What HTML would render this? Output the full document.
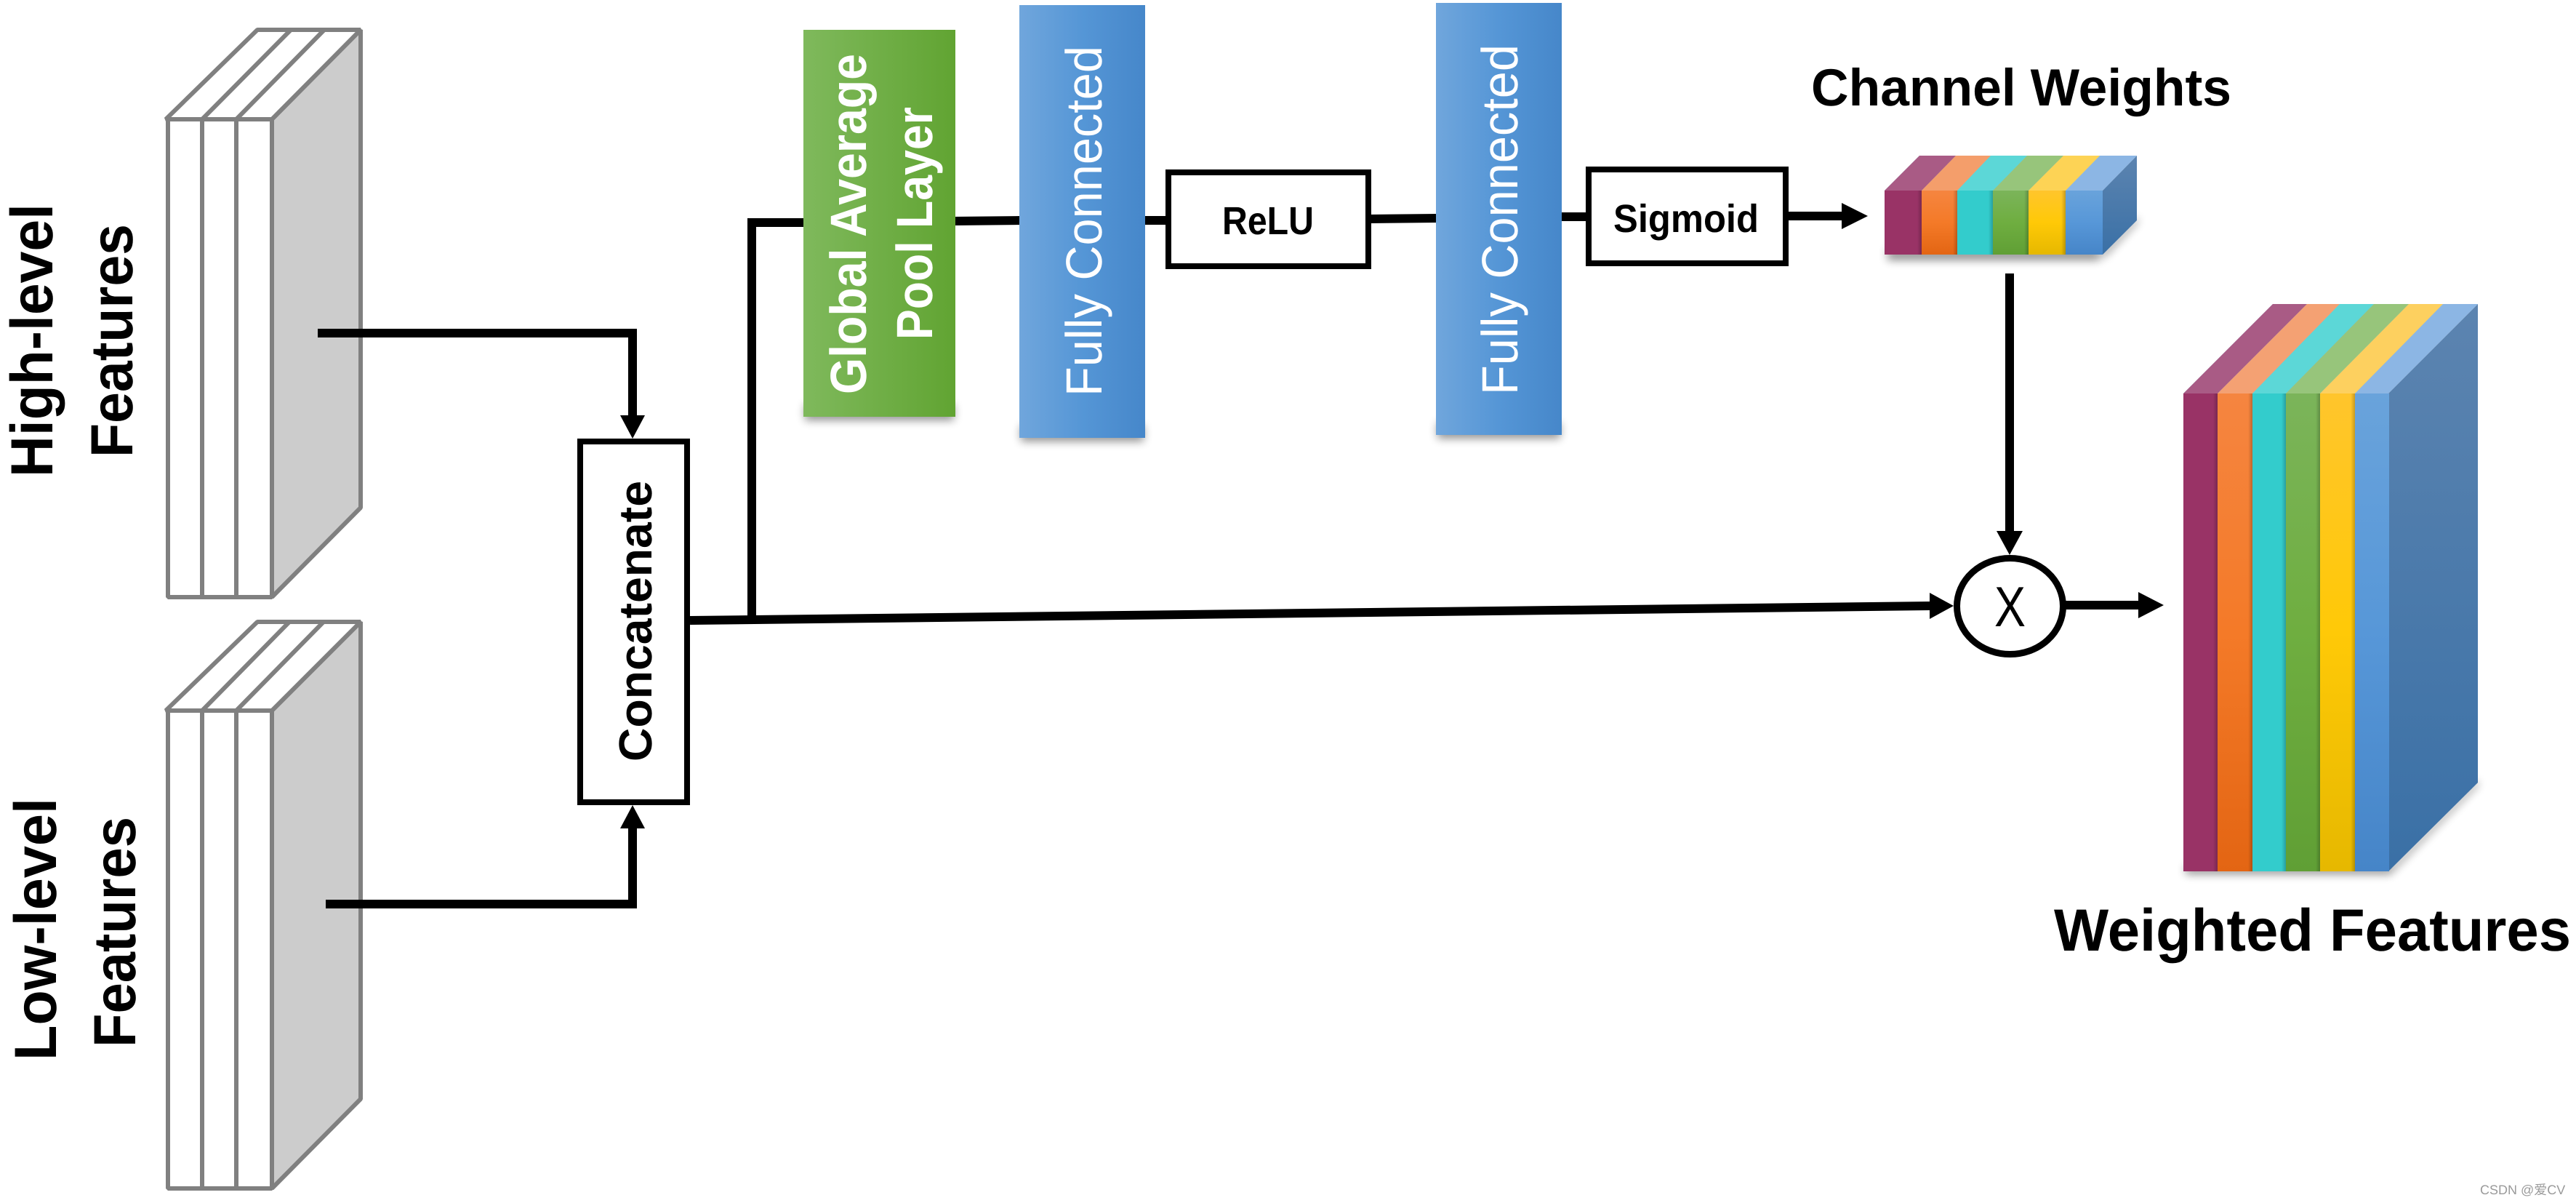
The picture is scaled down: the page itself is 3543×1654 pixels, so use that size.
<!DOCTYPE html>
<html><head><meta charset="utf-8"><style>
html,body{margin:0;padding:0;background:#fff;width:3543px;height:1654px;overflow:hidden}
svg{display:block}
text{font-family:"Liberation Sans",sans-serif;text-rendering:geometricPrecision}
.b{font-weight:bold}
</style></head><body>
<svg width="3543" height="1654" viewBox="0 0 3543 1654" xmlns="http://www.w3.org/2000/svg">
<defs>
<linearGradient id="gr"><stop offset="0" stop-color="#7fb95c"/><stop offset="1" stop-color="#61a432"/></linearGradient>
<linearGradient id="bl"><stop offset="0" stop-color="#70a6dc"/><stop offset=".5" stop-color="#5596d6"/><stop offset="1" stop-color="#4687ca"/></linearGradient>
<linearGradient id="v1" x2="0" y2="1"><stop offset="0" stop-color="#f58540"/><stop offset=".5" stop-color="#f47a28"/><stop offset="1" stop-color="#e36513"/></linearGradient>
<linearGradient id="v2" x2="0" y2="1"><stop offset="0" stop-color="#7bb45a"/><stop offset=".5" stop-color="#6fae40"/><stop offset="1" stop-color="#609f35"/></linearGradient>
<linearGradient id="v3" x2="0" y2="1"><stop offset="0" stop-color="#ffc52c"/><stop offset=".5" stop-color="#ffc907"/><stop offset="1" stop-color="#e6b800"/></linearGradient>
<linearGradient id="v4" x2="0" y2="1"><stop offset="0" stop-color="#69a3db"/><stop offset=".5" stop-color="#5797d8"/><stop offset="1" stop-color="#4685c8"/></linearGradient>
<linearGradient id="v5" x2="0" y2="1"><stop offset="0" stop-color="#5c84b0"/><stop offset="1" stop-color="#3a70a6"/></linearGradient>
<linearGradient id="edge"><stop offset="0" stop-color="#000" stop-opacity="0"/><stop offset="1" stop-color="#000" stop-opacity=".22"/></linearGradient>
<filter id="sh" x="-20%" y="-60%" width="140%" height="220%"><feGaussianBlur stdDeviation="6"/></filter>
</defs>

<!-- feature stacks -->
<g fill="#fff" stroke="#808080" stroke-width="6" stroke-linejoin="bevel">
<path d="M374 164L496 41V698L374 821Z" fill="#cccccc"/>
<path d="M228 164L354 41H496L374 164Z"/>
<path d="M278 164L400 41M325 164L446 41" fill="none"/>
<rect x="231" y="164" width="143" height="657"/>
<path d="M278 164V821M325 164V821" fill="none"/>
<path d="M374 977L496 855V1511L374 1634Z" fill="#cccccc"/>
<path d="M228 977L354 855H496L374 977Z"/>
<path d="M278 977L398 855M325 977L445 855" fill="none"/>
<rect x="231" y="977" width="143" height="657"/>
<path d="M278 977V1634M325 977V1634" fill="none"/>
</g>

<!-- side labels -->
<text class="b" font-size="82" transform="translate(72,656) rotate(-90)" textLength="376" lengthAdjust="spacingAndGlyphs">High-level</text>
<text class="b" font-size="82" transform="translate(182,629) rotate(-90)" textLength="321" lengthAdjust="spacingAndGlyphs">Features</text>
<text class="b" font-size="82" transform="translate(77,1458) rotate(-90)" textLength="361" lengthAdjust="spacingAndGlyphs">Low-level</text>
<text class="b" font-size="82" transform="translate(186,1440) rotate(-90)" textLength="317" lengthAdjust="spacingAndGlyphs">Features</text>

<!-- connectors -->
<g fill="none" stroke="#000" stroke-width="12">
<path d="M437 458H870V575"/>
<path d="M448 1243H870V1135"/>
<path d="M949 853L2656 833"/>
<path d="M1034 850V306L1110 306"/>
<path d="M1310 304L1405 303"/>
<path d="M1572 303H1606"/>
<path d="M1884 301L1978 300"/>
<path d="M2146 298L2184 298"/>
<path d="M2458 297H2536"/>
<path d="M2764 376V734"/>
<path d="M2840 832H2945"/>
</g>
<g fill="#000">
<path d="M853 571H887L870 603Z"/>
<path d="M853 1139H887L870 1107Z"/>
<path d="M2533 279V315L2569 297Z"/>
<path d="M2746 730H2782L2764 763Z"/>
<path d="M2654 815V851L2687 833Z"/>
<path d="M2941 814V850L2976 832Z"/>
</g>

<!-- shadows -->
<g fill="#000" opacity=".42" filter="url(#sh)">
<rect x="1107" y="556" width="205" height="22"/>
<rect x="1404" y="585" width="169" height="22"/>
<rect x="1977" y="581" width="169" height="22"/>
<rect x="2596" y="342" width="292" height="16"/>
<rect x="3006" y="1190" width="280" height="12"/>
<path d="M2892 345L2940 298V306L2892 356Z"/>
<path d="M3285 1195L3408 1072V1080L3285 1204Z"/>
</g>

<!-- colored layers -->
<rect x="1105" y="41" width="209" height="532" fill="url(#gr)"/>
<rect x="1402" y="7" width="173" height="595" fill="url(#bl)"/>
<rect x="1975" y="4" width="173" height="594" fill="url(#bl)"/>

<text class="b" font-size="70" fill="#fff" transform="translate(1191,542) rotate(-90)" textLength="468" lengthAdjust="spacingAndGlyphs">Global Average</text>
<text class="b" font-size="70" fill="#fff" transform="translate(1282,467) rotate(-90)" textLength="320" lengthAdjust="spacingAndGlyphs">Pool Layer</text>
<text font-size="70" fill="#fff" transform="translate(1515,545) rotate(-90)" textLength="482" lengthAdjust="spacingAndGlyphs">Fully Connected</text>
<text font-size="70" fill="#fff" transform="translate(2087,543) rotate(-90)" textLength="482" lengthAdjust="spacingAndGlyphs">Fully Connected</text>

<!-- boxes -->
<g fill="#fff" stroke="#000" stroke-width="8">
<rect x="798" y="607" width="147" height="496"/>
<rect x="1607" y="237" width="275" height="129"/>
<rect x="2185" y="233" width="271" height="129"/>
</g>
<text class="b" font-size="64" transform="translate(896,1047) rotate(-90)" textLength="386" lengthAdjust="spacingAndGlyphs">Concatenate</text>
<text class="b" font-size="54" x="1681" y="322" textLength="126" lengthAdjust="spacingAndGlyphs">ReLU</text>
<text class="b" font-size="54" x="2219" y="319" textLength="200" lengthAdjust="spacingAndGlyphs">Sigmoid</text>

<!-- channel weights cube -->
<path d="M2592 262L2640 214H2939L2892 262Z" fill="#8cb6e4"/>
<path d="M2592 262L2640 214H2690L2643 262Z" fill="#a95b85"/>
<path d="M2643 262L2690 214H2738L2692 262Z" fill="#f49e6b"/>
<path d="M2692 262L2738 214H2788L2741 262Z" fill="#5cd7d7"/>
<path d="M2741 262L2788 214H2838L2790 262Z" fill="#97c57b"/>
<path d="M2790 262L2838 214H2888L2841 262Z" fill="#fdd355"/>
<path d="M2892 262L2939 214V303L2892 350Z" fill="url(#v5)"/>
<rect x="2592" y="262" width="51" height="88" fill="#993366"/>
<rect x="2643" y="262" width="49" height="88" fill="url(#v1)"/>
<rect x="2692" y="262" width="49" height="88" fill="#33cccc"/>
<rect x="2741" y="262" width="49" height="88" fill="url(#v2)"/>
<rect x="2790" y="262" width="51" height="88" fill="url(#v3)"/>
<rect x="2841" y="262" width="51" height="88" fill="url(#v4)"/>
<g fill="url(#edge)">
<rect x="2637" y="262" width="6" height="88"/>
<rect x="2686" y="262" width="6" height="88"/>
<rect x="2735" y="262" width="6" height="88"/>
<rect x="2784" y="262" width="6" height="88"/>
<rect x="2835" y="262" width="6" height="88"/>
</g>
<text class="b" font-size="72" x="2491" y="145" textLength="578" lengthAdjust="spacingAndGlyphs">Channel Weights</text>

<!-- weighted features cube -->
<path d="M3003 541L3126 418H3408L3285 541Z" fill="#8cb6e4"/>
<path d="M3003 541L3126 418H3173L3050 541Z" fill="#a95b85"/>
<path d="M3050 541L3173 418H3218L3098 541Z" fill="#f4a173"/>
<path d="M3098 541L3218 418H3265L3144 541Z" fill="#5cd7d7"/>
<path d="M3144 541L3265 418H3313L3191 541Z" fill="#97c57b"/>
<path d="M3191 541L3313 418H3360L3239 541Z" fill="#fdd05f"/>
<path d="M3285 541L3408 418V1076L3285 1198Z" fill="url(#v5)"/>
<rect x="3003" y="541" width="47" height="657" fill="#993366"/>
<rect x="3050" y="541" width="48" height="657" fill="url(#v1)"/>
<rect x="3098" y="541" width="46" height="657" fill="#33cccc"/>
<rect x="3144" y="541" width="47" height="657" fill="url(#v2)"/>
<rect x="3191" y="541" width="48" height="657" fill="url(#v3)"/>
<rect x="3239" y="541" width="47" height="657" fill="url(#v4)"/>
<g fill="url(#edge)">
<rect x="3044" y="541" width="6" height="657"/>
<rect x="3092" y="541" width="6" height="657"/>
<rect x="3138" y="541" width="6" height="657"/>
<rect x="3185" y="541" width="6" height="657"/>
<rect x="3233" y="541" width="6" height="657"/>
</g>
<text class="b" font-size="82" x="2825" y="1307" textLength="711" lengthAdjust="spacingAndGlyphs">Weighted Features</text>

<!-- multiply node -->
<ellipse cx="2764.5" cy="833.5" rx="73" ry="66" fill="#fff" stroke="#000" stroke-width="9"/>
<text font-size="78" x="2743" y="861" textLength="43" lengthAdjust="spacingAndGlyphs">X</text>

<!-- watermark -->
<text font-size="18" fill="#9a9a9a" x="3411" y="1642" style="font-family:'Liberation Sans','Noto Sans CJK SC',sans-serif">CSDN @爱CV</text>
</svg>
</body></html>
